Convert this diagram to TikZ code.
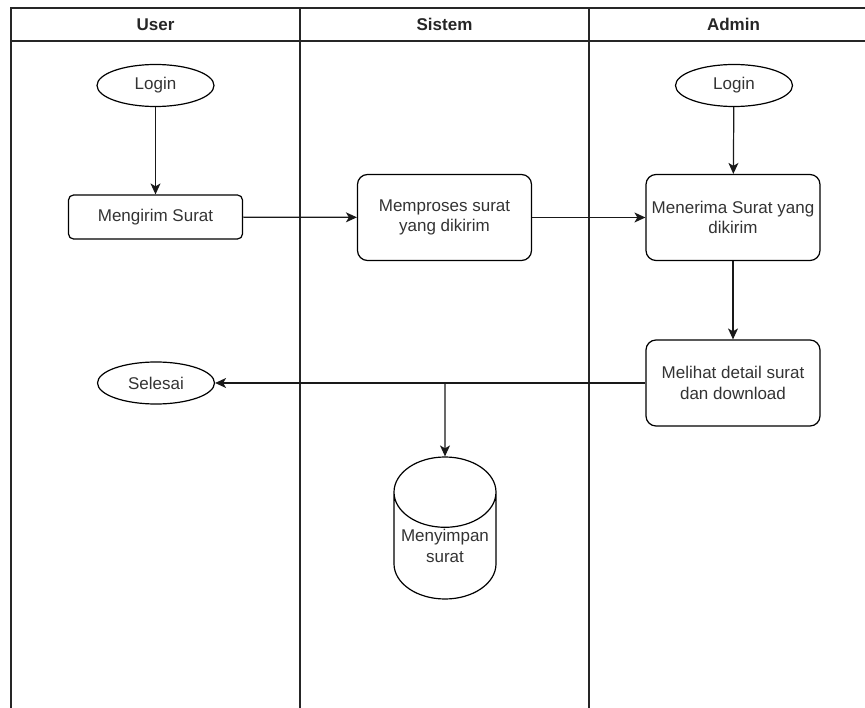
\documentclass[tikz,border=0pt]{standalone}
\usepackage{fontspec}
\setmainfont{Liberation Sans}
\usetikzlibrary{shapes.geometric}
\usetikzlibrary{arrows.meta}

\begin{document}
\begin{tikzpicture}[x=1pt,y=-1pt,line width=1.2pt,>={Stealth[length=11pt,width=10pt,inset=3pt]},
	font=\fontsize{17}{20.5}\selectfont]
	\tikzstyle{lane}=[draw=black!85]
	\tikzstyle{header}=[font=\fontsize{17}{20.5}\selectfont\bfseries, text=black!85]
	\tikzstyle{terminal}=[ellipse,draw,minimum width=117pt,minimum height=42pt,inner sep=0pt,text=black!80]
	\tikzstyle{process}=[rectangle,draw,rounded corners=10pt,minimum width=174pt,minimum height=86pt,inner sep=1pt,align=center,text=black!80]
	\tikzstyle{storage}=[cylinder,shape border rotate=90,draw,aspect=0.8,minimum width=102pt,minimum height=142pt,inner sep=0pt,align=center,text=black!80]
	\tikzstyle{flow}=[->,draw=black!90,line width=1.2pt]

	\useasboundingbox (0,0) rectangle (865,708);

	% Draw the swimlanes
	\draw[lane] (11,708) -- (11,8) -- (866,8);
	\draw[lane] (11,41) -- (866,41);
	\foreach \x in {300,589}
	\draw[lane] (\x,8) -- (\x,708);

	% Lane titles
	\foreach \name / \x / \title in {U/155.5/User, S/444.5/Sistem, A/733.5/Admin}
	\node[header] (T-\name) at (\x,24.5) {\title};

	% Draw the user lane
	\node[terminal] (loginU) at (155.5,85.5) {Login};
	\node[process, minimum height=44pt, rounded corners=5pt] (kirim) at (155.5,217) {Mengirim Surat};
	\node[terminal] (selesai) at (156,383) {Selesai};

	% Draw the system lane
	\node[process] (proses) at (444.5,217.5) {Memproses surat\\yang dikirim};
	\node[storage, anchor=shape center] (simpan) at (445,528) {Menyimpan\\surat};
	\coordinate (cabang) at (simpan.north |- selesai);

	% Draw the admin lane
	\node[terminal] (loginA) at (734,85.5) {Login};
	\node[process] (terima) at (733,217.5) {Menerima Surat yang\\dikirim};
	\node[process] (lihat) at (733,383) {Melihat detail surat\\dan download};

	% Connect the steps
	\draw[flow] (loginU) -- (kirim);
	\draw[flow] (kirim) -- (proses);
	\draw[flow] (proses) -- (terima);
	\draw[flow] (loginA) -- (terima);
	\draw[flow] (terima) -- (lihat);
	\draw[flow] (lihat) -- (selesai);
	\draw[flow] (cabang) -- (simpan.top);
\end{tikzpicture}
\end{document}
